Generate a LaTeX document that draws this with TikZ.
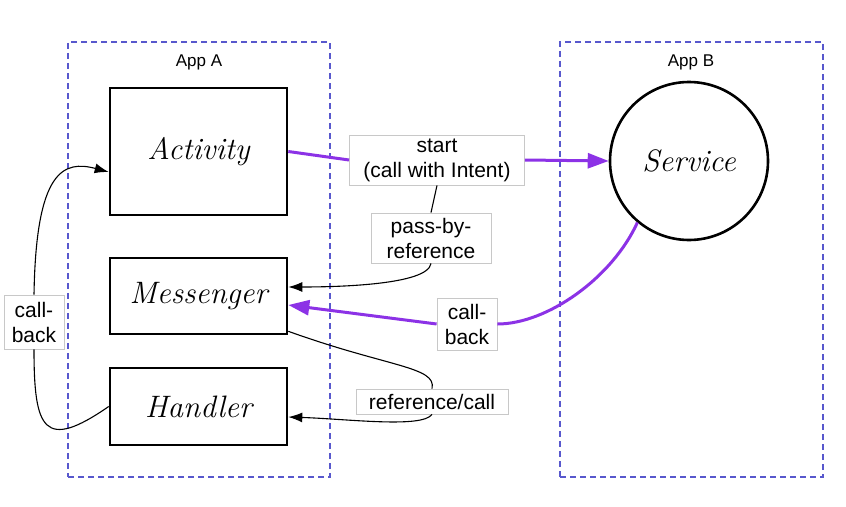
\documentclass[tikz,border=0pt]{standalone}
\usepackage{fontspec}
\setsansfont{Liberation Sans}
\usetikzlibrary{arrows.meta}
\definecolor{appblue}{RGB}{88,88,205}
\definecolor{callpurple}{RGB}{140,50,230}
\definecolor{tagline}{RGB}{200,200,200}

\begin{document}
\begin{tikzpicture}[x=1pt,y=-1pt,
  appbox/.style={draw=appblue, dash pattern=on 6pt off 4pt, line width=1.4pt, minimum width=262pt, minimum height=435pt, inner sep=0pt},
  appname/.style={font=\sffamily\fontsize{17}{20}\selectfont},
  comp/.style={draw, line width=2.6pt, minimum width=177pt, inner sep=0pt, font=\fontsize{31}{34}\selectfont\itshape},
  tag/.style={draw=tagline, fill=white, line width=0.8pt, align=center, inner sep=0pt, font=\sffamily\fontsize{21}{25}\selectfont},
  wire/.style={line width=1.1pt},
  callpath/.style={draw=callpurple, line width=3pt},
  tip/.style={-{Latex[length=14pt,width=10pt]}},
  bigtip/.style={-{Triangle[length=21pt,width=15pt]}}
]
\useasboundingbox (0,0) rectangle (846,506);

% the two apps
\node[appbox] (appa) at (199,259.5) {};
\node[appbox, minimum width=263pt] (appb) at (691.5,259.5) {};
\node[appname] (appaname) at (199,62) {App A};
\node[appname] (appbname) at (691,62) {App B};

% components
\node[comp, minimum height=127pt] (act) at (198.5,151.5) {Activity};
\node[comp, minimum height=76pt] (msg) at (198.5,296) {Messenger};
\node[comp, minimum height=77pt] (hnd) at (198.5,406.5) {Handler};
\node[comp, circle, minimum width=158pt] (svc) at (689,161) {Service};

% labels on the connectors
\node[tag, minimum width=175pt, minimum height=50pt] (start) at (437,160) {start\\(call with Intent)};
\node[tag, minimum width=120pt, minimum height=50pt] (pass) at (431,238) {pass-by-\\reference};
\node[tag, minimum width=60pt, minimum height=52pt] (cbr) at (467,324) {call-\\back};
\node[tag, minimum width=152pt, minimum height=25pt] (refcall) at (432,401.5) {reference/call};
\node[tag, minimum width=60pt, minimum height=54pt] (cbl) at (34,322) {call-\\back};

% start the service
\draw[callpath] (act.east) -- (start.west);
\draw[callpath, bigtip] (start.east) -- (svc.west);

% messenger is handed over
\draw[wire] (start.south) -- (pass.north);
\draw[wire, tip] (pass.south) .. controls +(-3,22) and +(45,0) .. ([yshift=9pt]msg.east);

% service calls back
\draw[callpath] (svc.230) .. controls +(-25,55) and +(50,0) .. (cbr.east);
\draw[callpath, bigtip] (cbr.west) -- ([yshift=-9pt]msg.east);

% messenger to handler
\draw[wire] ([yshift=4pt]msg.south east) .. controls +(100,36) and +(5,-22) .. (refcall.north);
\draw[wire, tip] (refcall.south) .. controls +(-10,14) and +(60,2) .. ([yshift=-10.5pt]hnd.east);

% handler back to activity
\draw[wire] (hnd.west) .. controls +(-65,45) and +(0,80) .. (cbl.south);
\draw[wire, tip] (cbl.north) .. controls +(2,-125) and +(-45,-12) .. ([yshift=-20.5pt]act.west);
\end{tikzpicture}
\end{document}
